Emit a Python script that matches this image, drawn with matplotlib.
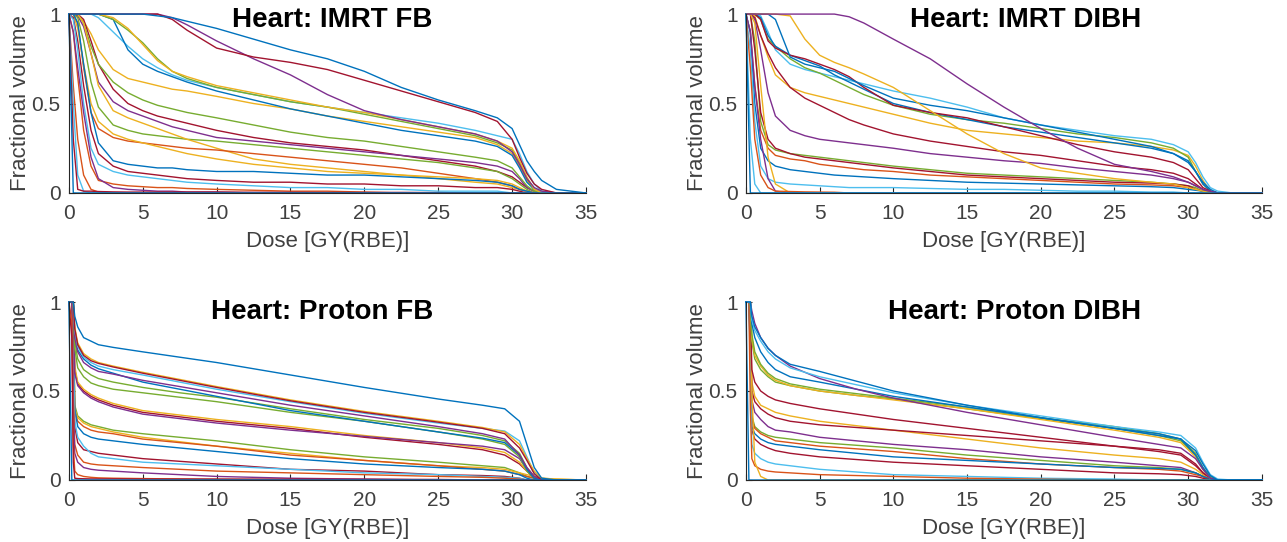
import matplotlib
matplotlib.use("Agg")
import matplotlib.pyplot as plt

plt.rcParams['font.family'] = ['Liberation Sans', 'DejaVu Sans']

# MATLAB default line colours
matlab = {
    'b': '#0072BD', 'o': '#D95319', 'y': '#EDB120', 'p': '#7E2F8E',
    'g': '#77AC30', 'c': '#4DBEEE', 'r': '#A2142F',
}

# ---- IMRT dose grid (Gy) ----
imrt_dose = [0, 0.3, 0.6, 1, 1.5, 2, 3, 4, 5, 6, 7, 8, 10, 12.5, 15, 17.5,
             20, 22.5, 25, 27.5, 29, 30, 30.5, 31, 31.5, 32, 33, 35]

# Heart: IMRT FB, fractional volume per curve on imrt_dose
imrt_fb_vol = [
    [1, 1, 0.99, 0.96, 0.89, 0.80, 0.69, 0.64, 0.62, 0.60, 0.58, 0.57, 0.54, 0.50, 0.47, 0.43, 0.40, 0.37, 0.34, 0.31, 0.27, 0.22, 0.15, 0.07, 0.02, 0, 0, 0],
    [1, 1, 1, 0.97, 0.85, 0.72, 0.58, 0.50, 0.46, 0.43, 0.41, 0.39, 0.35, 0.31, 0.28, 0.26, 0.24, 0.21, 0.18, 0.15, 0.12, 0.09, 0.06, 0.03, 0.01, 0, 0, 0],
    [1, 1, 0.99, 0.93, 0.78, 0.62, 0.51, 0.46, 0.43, 0.40, 0.37, 0.35, 0.31, 0.29, 0.27, 0.25, 0.23, 0.21, 0.19, 0.17, 0.15, 0.12, 0.08, 0.03, 0.01, 0, 0, 0],
    [1, 1, 0.98, 0.85, 0.62, 0.48, 0.38, 0.35, 0.33, 0.32, 0.31, 0.30, 0.29, 0.27, 0.25, 0.23, 0.21, 0.19, 0.17, 0.14, 0.12, 0.08, 0.05, 0.02, 0, 0, 0, 0],
    [1, 1, 1, 0.95, 0.82, 0.72, 0.62, 0.56, 0.52, 0.49, 0.47, 0.45, 0.42, 0.38, 0.34, 0.31, 0.29, 0.26, 0.23, 0.20, 0.18, 0.14, 0.09, 0.04, 0.01, 0, 0, 0],
    [1, 1, 1, 0.95, 0.78, 0.60, 0.46, 0.42, 0.39, 0.36, 0.33, 0.30, 0.25, 0.19, 0.16, 0.14, 0.12, 0.10, 0.08, 0.06, 0.05, 0.03, 0.02, 0.01, 0, 0, 0, 0],
    [1, 1, 0.95, 0.70, 0.45, 0.36, 0.31, 0.29, 0.28, 0.27, 0.26, 0.25, 0.24, 0.22, 0.20, 0.18, 0.16, 0.14, 0.11, 0.08, 0.06, 0.04, 0.02, 0.01, 0, 0, 0, 0],
    [1, 1, 0.92, 0.72, 0.50, 0.40, 0.33, 0.30, 0.28, 0.26, 0.24, 0.22, 0.19, 0.16, 0.14, 0.12, 0.11, 0.10, 0.09, 0.08, 0.07, 0.05, 0.03, 0.01, 0, 0, 0, 0],
    [1, 1, 0.95, 0.72, 0.45, 0.28, 0.18, 0.16, 0.15, 0.14, 0.14, 0.13, 0.12, 0.12, 0.11, 0.10, 0.10, 0.09, 0.08, 0.07, 0.06, 0.04, 0.02, 0.01, 0, 0, 0, 0],
    [1, 0.98, 0.85, 0.60, 0.35, 0.22, 0.15, 0.12, 0.11, 0.10, 0.09, 0.08, 0.07, 0.06, 0.06, 0.05, 0.05, 0.04, 0.04, 0.03, 0.03, 0.02, 0.01, 0, 0, 0, 0, 0],
    [1, 0.97, 0.80, 0.50, 0.25, 0.16, 0.12, 0.10, 0.09, 0.08, 0.07, 0.06, 0.05, 0.04, 0.03, 0.03, 0.02, 0.02, 0.01, 0.01, 0.01, 0, 0, 0, 0, 0, 0, 0],
    [1, 0.90, 0.65, 0.35, 0.15, 0.07, 0.05, 0.04, 0.035, 0.03, 0.03, 0.025, 0.02, 0.015, 0.01, 0.01, 0.005, 0, 0, 0, 0, 0, 0, 0, 0, 0, 0, 0],
    [1, 0.90, 0.70, 0.45, 0.20, 0.08, 0.03, 0.02, 0.015, 0.01, 0.01, 0.005, 0.005, 0, 0, 0, 0, 0, 0, 0, 0, 0, 0, 0, 0, 0, 0, 0],
    [1, 0.60, 0.30, 0.10, 0.02, 0.005, 0, 0, 0, 0, 0, 0, 0, 0, 0, 0, 0, 0, 0, 0, 0, 0, 0, 0, 0, 0, 0, 0],
    [1, 0.50, 0.10, 0.01, 0, 0, 0, 0, 0, 0, 0, 0, 0, 0, 0, 0, 0, 0, 0, 0, 0, 0, 0, 0, 0, 0, 0, 0],
    [1, 0.30, 0.02, 0.01, 0.01, 0.008, 0.006, 0.005, 0.005, 0.005, 0.005, 0.005, 0.005, 0.004, 0.004, 0.003, 0.003, 0.003, 0.002, 0, 0, 0, 0, 0, 0, 0, 0, 0],
    [1, 1, 1, 1, 1, 0.98, 0.90, 0.82, 0.75, 0.70, 0.66, 0.63, 0.59, 0.55, 0.51, 0.48, 0.45, 0.42, 0.39, 0.35, 0.32, 0.30, 0.22, 0.12, 0.05, 0.01, 0, 0],
    [1, 1, 1, 1, 1, 1, 0.97, 0.80, 0.72, 0.68, 0.65, 0.62, 0.57, 0.52, 0.47, 0.43, 0.39, 0.35, 0.32, 0.29, 0.26, 0.21, 0.14, 0.06, 0.02, 0, 0, 0],
    [1, 1, 1, 1, 1, 1, 0.97, 0.91, 0.84, 0.75, 0.68, 0.64, 0.59, 0.55, 0.51, 0.48, 0.44, 0.40, 0.36, 0.32, 0.28, 0.24, 0.17, 0.08, 0.02, 0, 0, 0],
    [1, 1, 1, 1, 1, 1, 0.98, 0.92, 0.83, 0.74, 0.68, 0.65, 0.60, 0.56, 0.52, 0.48, 0.45, 0.41, 0.37, 0.33, 0.29, 0.25, 0.18, 0.09, 0.02, 0, 0, 0],
    [1, 1, 1, 1, 1, 1, 1, 1, 1, 1, 0.98, 0.94, 0.85, 0.75, 0.66, 0.55, 0.46, 0.41, 0.37, 0.33, 0.29, 0.23, 0.16, 0.08, 0.03, 0.01, 0, 0],
    [1, 1, 1, 1, 1, 1, 1, 1, 1, 1, 0.97, 0.91, 0.81, 0.76, 0.73, 0.69, 0.63, 0.57, 0.51, 0.45, 0.40, 0.30, 0.20, 0.11, 0.05, 0.02, 0, 0],
    [1, 1, 1, 1, 1, 1, 1, 1, 1, 0.99, 0.98, 0.96, 0.92, 0.86, 0.80, 0.75, 0.68, 0.59, 0.52, 0.46, 0.42, 0.36, 0.27, 0.18, 0.12, 0.07, 0.02, 0],
    [1, 0, 0, 0, 0, 0, 0, 0, 0, 0, 0, 0, 0, 0, 0, 0, 0, 0, 0, 0, 0, 0, 0, 0, 0, 0, 0, 0],
]
imrt_fb_colors = ['y', 'r', 'p', 'g', 'g', 'y', 'o', 'y', 'b', 'r', 'c', 'o',
                  'p', 'o', 'c', 'r', 'c', 'b', 'g', 'y', 'p', 'r', 'b', 'b']

# Heart: IMRT DIBH
imrt_dibh_vol = [
    [1, 1, 0.99, 0.88, 0.76, 0.66, 0.59, 0.56, 0.54, 0.52, 0.50, 0.48, 0.44, 0.39, 0.35, 0.33, 0.31, 0.29, 0.28, 0.26, 0.24, 0.21, 0.15, 0.07, 0.01, 0, 0, 0],
    [1, 1, 0.98, 0.88, 0.78, 0.70, 0.59, 0.53, 0.49, 0.45, 0.41, 0.38, 0.33, 0.29, 0.26, 0.23, 0.21, 0.18, 0.15, 0.13, 0.11, 0.08, 0.05, 0.02, 0, 0, 0, 0],
    [1, 1, 0.97, 0.80, 0.56, 0.43, 0.35, 0.32, 0.30, 0.29, 0.28, 0.27, 0.25, 0.22, 0.20, 0.18, 0.165, 0.14, 0.12, 0.10, 0.08, 0.06, 0.04, 0.02, 0, 0, 0, 0],
    [1, 1, 0.85, 0.40, 0.27, 0.24, 0.22, 0.21, 0.20, 0.19, 0.18, 0.17, 0.15, 0.13, 0.11, 0.10, 0.09, 0.08, 0.07, 0.06, 0.05, 0.04, 0.03, 0.01, 0, 0, 0, 0],
    [1, 1, 0.80, 0.45, 0.30, 0.25, 0.22, 0.20, 0.19, 0.18, 0.17, 0.16, 0.14, 0.12, 0.10, 0.09, 0.08, 0.07, 0.06, 0.055, 0.05, 0.04, 0.02, 0.01, 0, 0, 0, 0],
    [1, 0.90, 0.60, 0.35, 0.25, 0.21, 0.19, 0.18, 0.16, 0.15, 0.14, 0.13, 0.12, 0.10, 0.09, 0.08, 0.07, 0.06, 0.05, 0.045, 0.04, 0.03, 0.02, 0.01, 0, 0, 0, 0],
    [1, 0.90, 0.50, 0.25, 0.18, 0.15, 0.13, 0.12, 0.11, 0.10, 0.095, 0.09, 0.08, 0.07, 0.06, 0.055, 0.05, 0.045, 0.04, 0.035, 0.03, 0.02, 0.015, 0.01, 0, 0, 0, 0],
    [1, 0.80, 0.40, 0.15, 0.08, 0.06, 0.05, 0.045, 0.04, 0.035, 0.03, 0.03, 0.03, 0.025, 0.02, 0.02, 0.015, 0.01, 0.01, 0.005, 0.005, 0, 0, 0, 0, 0, 0, 0],
    [1, 1, 0.95, 0.60, 0.20, 0.05, 0, 0, 0, 0, 0, 0, 0, 0, 0, 0, 0, 0, 0, 0, 0, 0, 0, 0, 0, 0, 0, 0],
    [1, 0.90, 0.60, 0.30, 0.08, 0.01, 0, 0, 0, 0, 0, 0, 0, 0, 0, 0, 0, 0, 0, 0, 0, 0, 0, 0, 0, 0, 0, 0],
    [1, 0.70, 0.30, 0.10, 0.03, 0.01, 0.008, 0.006, 0.005, 0.004, 0, 0, 0, 0, 0, 0, 0, 0, 0, 0, 0, 0, 0, 0, 0, 0, 0, 0],
    [1, 0.30, 0.05, 0, 0, 0, 0, 0, 0, 0, 0, 0, 0, 0, 0, 0, 0, 0, 0, 0, 0, 0, 0, 0, 0, 0, 0, 0],
    [1, 1, 1, 0.99, 0.90, 0.80, 0.72, 0.69, 0.67, 0.65, 0.63, 0.61, 0.57, 0.53, 0.48, 0.42, 0.38, 0.35, 0.32, 0.30, 0.27, 0.23, 0.17, 0.09, 0.03, 0.01, 0, 0],
    [1, 1, 1, 0.97, 0.86, 0.82, 0.75, 0.70, 0.67, 0.63, 0.59, 0.55, 0.49, 0.44, 0.41, 0.39, 0.36, 0.33, 0.31, 0.28, 0.25, 0.20, 0.12, 0.05, 0.01, 0, 0, 0],
    [1, 1, 1, 0.98, 0.88, 0.82, 0.77, 0.74, 0.71, 0.66, 0.62, 0.58, 0.50, 0.45, 0.41, 0.37, 0.34, 0.31, 0.28, 0.25, 0.22, 0.18, 0.12, 0.05, 0.01, 0, 0, 0],
    [1, 1, 1, 0.97, 0.85, 0.81, 0.77, 0.75, 0.72, 0.69, 0.65, 0.59, 0.49, 0.45, 0.42, 0.37, 0.32, 0.27, 0.23, 0.20, 0.17, 0.13, 0.08, 0.03, 0.01, 0, 0, 0],
    [1, 1, 1, 1, 1, 0.97, 0.76, 0.72, 0.70, 0.68, 0.64, 0.60, 0.53, 0.49, 0.46, 0.42, 0.38, 0.34, 0.30, 0.26, 0.22, 0.17, 0.12, 0.06, 0.02, 0, 0, 0],
    [1, 1, 1, 1, 1, 1, 0.99, 0.86, 0.77, 0.73, 0.70, 0.665, 0.59, 0.46, 0.33, 0.22, 0.14, 0.11, 0.08, 0.06, 0.05, 0.03, 0.02, 0.01, 0, 0, 0, 0],
    [1, 1, 1, 1, 1, 1, 1, 1, 1, 1, 0.985, 0.95, 0.86, 0.75, 0.61, 0.48, 0.36, 0.25, 0.16, 0.12, 0.09, 0.06, 0.04, 0.02, 0.01, 0, 0, 0],
    [1, 0, 0, 0, 0, 0, 0, 0, 0, 0, 0, 0, 0, 0, 0, 0, 0, 0, 0, 0, 0, 0, 0, 0, 0, 0, 0, 0],
]
imrt_dibh_colors = ['y', 'r', 'p', 'g', 'r', 'o', 'b', 'c', 'y', 'p', 'o', 'c',
                    'c', 'g', 'b', 'r', 'b', 'y', 'p', 'b']

# ---- Proton dose grid (Gy) ----
prot_dose = [0, 0.2, 0.3, 0.4, 0.6, 1, 1.5, 2, 3, 5, 7.5, 10, 15, 20, 25,
             28, 29.5, 30.5, 31, 31.5, 32, 33, 35]

# Heart: Proton FB
prot_fb_vol = [
    [1, 1, 1, 0.42, 0.36, 0.33, 0.31, 0.30, 0.28, 0.26, 0.24, 0.22, 0.17, 0.13, 0.10, 0.08, 0.07, 0.04, 0.02, 0.01, 0, 0, 0],
    [1, 1, 1, 0.40, 0.35, 0.32, 0.30, 0.29, 0.27, 0.24, 0.215, 0.19, 0.15, 0.11, 0.08, 0.07, 0.06, 0.04, 0.03, 0.02, 0.01, 0.005, 0],
    [1, 1, 1, 0.38, 0.33, 0.30, 0.28, 0.27, 0.26, 0.23, 0.21, 0.19, 0.14, 0.11, 0.08, 0.06, 0.05, 0.03, 0.02, 0.01, 0, 0, 0],
    [1, 1, 0.8, 0.40, 0.30, 0.26, 0.24, 0.23, 0.22, 0.20, 0.18, 0.16, 0.12, 0.09, 0.07, 0.06, 0.05, 0.03, 0.01, 0, 0, 0, 0],
    [1, 1, 0.7, 0.30, 0.21, 0.17, 0.16, 0.15, 0.14, 0.12, 0.105, 0.09, 0.06, 0.05, 0.03, 0.025, 0.02, 0.01, 0, 0, 0, 0, 0],
    [1, 1, 0.75, 0.33, 0.24, 0.19, 0.15, 0.13, 0.12, 0.10, 0.09, 0.08, 0.06, 0.04, 0.03, 0.02, 0.015, 0.01, 0, 0, 0, 0, 0],
    [1, 1, 0.5, 0.20, 0.14, 0.10, 0.09, 0.085, 0.08, 0.07, 0.06, 0.05, 0.04, 0.03, 0.02, 0.015, 0.01, 0.005, 0, 0, 0, 0, 0],
    [1, 1, 0.4, 0.15, 0.10, 0.07, 0.06, 0.055, 0.05, 0.04, 0.03, 0.02, 0.01, 0.005, 0, 0, 0, 0, 0, 0, 0, 0, 0],
    [1, 0.9, 0.2, 0.05, 0.03, 0.02, 0.015, 0.012, 0.01, 0.008, 0.006, 0.004, 0, 0, 0, 0, 0, 0, 0, 0, 0, 0, 0],
    [1, 0.8, 0.1, 0.01, 0.008, 0.007, 0.006, 0.006, 0.006, 0.005, 0.005, 0.005, 0.005, 0.004, 0.003, 0, 0, 0, 0, 0, 0, 0, 0],
    [1, 1, 1, 0.62, 0.54, 0.50, 0.47, 0.45, 0.42, 0.38, 0.355, 0.33, 0.29, 0.24, 0.20, 0.17, 0.14, 0.09, 0.05, 0.01, 0, 0, 0],
    [1, 1, 1, 0.64, 0.55, 0.51, 0.48, 0.46, 0.43, 0.39, 0.365, 0.34, 0.30, 0.25, 0.21, 0.18, 0.155, 0.10, 0.05, 0.015, 0, 0, 0],
    [1, 1, 1, 0.60, 0.53, 0.49, 0.46, 0.44, 0.41, 0.37, 0.345, 0.32, 0.28, 0.245, 0.21, 0.19, 0.17, 0.12, 0.06, 0.02, 0, 0, 0],
    [1, 1, 1, 0.74, 0.63, 0.58, 0.545, 0.53, 0.51, 0.49, 0.465, 0.44, 0.38, 0.33, 0.27, 0.23, 0.20, 0.13, 0.05, 0.01, 0, 0, 0],
    [1, 1, 1, 0.78, 0.68, 0.62, 0.59, 0.57, 0.55, 0.52, 0.49, 0.465, 0.40, 0.34, 0.29, 0.25, 0.22, 0.15, 0.07, 0.02, 0, 0, 0],
    [1, 1, 1, 0.82, 0.73, 0.68, 0.645, 0.625, 0.60, 0.55, 0.51, 0.47, 0.39, 0.33, 0.27, 0.235, 0.21, 0.14, 0.06, 0.01, 0, 0, 0],
    [1, 1, 1, 0.80, 0.72, 0.66, 0.63, 0.61, 0.595, 0.56, 0.525, 0.49, 0.42, 0.36, 0.30, 0.26, 0.23, 0.14, 0.07, 0.02, 0, 0, 0],
    [1, 1, 1, 0.84, 0.75, 0.69, 0.66, 0.64, 0.62, 0.59, 0.55, 0.51, 0.44, 0.375, 0.32, 0.29, 0.275, 0.22, 0.13, 0.04, 0.01, 0, 0],
    [1, 1, 1, 0.86, 0.77, 0.71, 0.68, 0.66, 0.64, 0.605, 0.565, 0.525, 0.45, 0.385, 0.33, 0.295, 0.27, 0.20, 0.12, 0.05, 0.01, 0.005, 0],
    [1, 1, 1, 0.85, 0.76, 0.70, 0.67, 0.655, 0.635, 0.60, 0.56, 0.52, 0.445, 0.38, 0.325, 0.29, 0.26, 0.18, 0.11, 0.035, 0, 0, 0],
    [1, 1, 1, 0.92, 0.86, 0.80, 0.78, 0.76, 0.745, 0.72, 0.69, 0.66, 0.59, 0.52, 0.455, 0.42, 0.40, 0.33, 0.20, 0.07, 0.01, 0, 0],
    [1, 0, 0, 0, 0, 0, 0, 0, 0, 0, 0, 0, 0, 0, 0, 0, 0, 0, 0, 0, 0, 0, 0],
]
prot_fb_colors = ['g', 'y', 'o', 'b', 'r', 'c', 'o', 'p', 'o', 'r', 'r', 'y',
                  'p', 'g', 'g', 'b', 'p', 'c', 'y', 'r', 'b', 'b']

# Heart: Proton DIBH
prot_dibh_vol = [
    [1, 1, 0.9, 0.55, 0.47, 0.42, 0.40, 0.38, 0.36, 0.33, 0.305, 0.28, 0.23, 0.18, 0.14, 0.12, 0.10, 0.06, 0.03, 0, 0, 0, 0],
    [1, 1, 0.9, 0.50, 0.44, 0.40, 0.37, 0.35, 0.33, 0.31, 0.295, 0.28, 0.25, 0.22, 0.19, 0.17, 0.15, 0.09, 0.04, 0.01, 0, 0, 0],
    [1, 1, 0.85, 0.45, 0.38, 0.34, 0.30, 0.28, 0.27, 0.24, 0.22, 0.20, 0.17, 0.13, 0.10, 0.08, 0.07, 0.04, 0.02, 0, 0, 0, 0],
    [1, 1, 0.8, 0.36, 0.30, 0.27, 0.25, 0.24, 0.23, 0.21, 0.195, 0.18, 0.14, 0.11, 0.08, 0.07, 0.06, 0.04, 0.02, 0, 0, 0, 0],
    [1, 1, 0.8, 0.34, 0.29, 0.26, 0.24, 0.22, 0.21, 0.19, 0.175, 0.16, 0.12, 0.09, 0.07, 0.06, 0.05, 0.03, 0.02, 0.005, 0, 0, 0],
    [1, 1, 0.75, 0.30, 0.26, 0.23, 0.21, 0.20, 0.19, 0.17, 0.15, 0.13, 0.11, 0.09, 0.07, 0.065, 0.06, 0.04, 0.02, 0.005, 0, 0, 0],
    [1, 1, 0.7, 0.28, 0.23, 0.20, 0.18, 0.165, 0.15, 0.13, 0.115, 0.10, 0.08, 0.06, 0.04, 0.035, 0.03, 0.02, 0.01, 0, 0, 0, 0],
    [1, 1, 0.6, 0.20, 0.15, 0.12, 0.10, 0.09, 0.08, 0.06, 0.045, 0.03, 0.02, 0.01, 0.005, 0, 0, 0, 0, 0, 0, 0, 0],
    [1, 1, 0.4, 0.12, 0.08, 0.06, 0.05, 0.045, 0.04, 0.03, 0.025, 0.02, 0.01, 0.005, 0, 0, 0, 0, 0, 0, 0, 0, 0],
    [1, 1, 1, 0.50, 0.10, 0.02, 0, 0, 0, 0, 0, 0, 0, 0, 0, 0, 0, 0, 0, 0, 0, 0, 0],
    [1, 1, 1, 0.62, 0.55, 0.50, 0.47, 0.45, 0.43, 0.40, 0.37, 0.34, 0.29, 0.24, 0.19, 0.16, 0.14, 0.08, 0.04, 0.01, 0, 0, 0],
    [1, 1, 1, 0.78, 0.68, 0.62, 0.58, 0.55, 0.53, 0.50, 0.475, 0.455, 0.40, 0.345, 0.29, 0.25, 0.22, 0.14, 0.06, 0.01, 0, 0, 0],
    [1, 1, 1, 0.80, 0.70, 0.64, 0.59, 0.56, 0.53, 0.50, 0.475, 0.45, 0.40, 0.34, 0.28, 0.24, 0.21, 0.13, 0.06, 0.01, 0, 0, 0],
    [1, 1, 1, 0.82, 0.72, 0.65, 0.60, 0.57, 0.54, 0.51, 0.485, 0.46, 0.41, 0.35, 0.30, 0.26, 0.23, 0.15, 0.07, 0.02, 0, 0, 0],
    [1, 1, 1, 0.88, 0.80, 0.72, 0.66, 0.62, 0.58, 0.55, 0.51, 0.47, 0.41, 0.35, 0.29, 0.25, 0.23, 0.14, 0.07, 0.01, 0, 0, 0],
    [1, 1, 1, 0.95, 0.88, 0.80, 0.74, 0.70, 0.64, 0.57, 0.51, 0.46, 0.38, 0.31, 0.24, 0.20, 0.18, 0.12, 0.06, 0.01, 0, 0, 0],
    [1, 1, 1, 0.90, 0.84, 0.78, 0.72, 0.68, 0.63, 0.58, 0.535, 0.49, 0.42, 0.36, 0.30, 0.27, 0.25, 0.18, 0.10, 0.03, 0.005, 0, 0],
    [1, 1, 1, 0.92, 0.86, 0.80, 0.74, 0.70, 0.65, 0.61, 0.555, 0.50, 0.42, 0.35, 0.29, 0.26, 0.23, 0.165, 0.09, 0.025, 0, 0, 0],
    [1, 0, 0, 0, 0, 0, 0, 0, 0, 0, 0, 0, 0, 0, 0, 0, 0, 0, 0, 0, 0, 0, 0],
]
prot_dibh_colors = ['y', 'r', 'p', 'g', 'o', 'b', 'r', 'c', 'o', 'y', 'r', 'g',
                    'y', 'g', 'b', 'p', 'c', 'b', 'b']

panels = [
    ('Heart: IMRT FB', imrt_dose, imrt_fb_vol, imrt_fb_colors),
    ('Heart: IMRT DIBH', imrt_dose, imrt_dibh_vol, imrt_dibh_colors),
    ('Heart: Proton FB', prot_dose, prot_fb_vol, prot_fb_colors),
    ('Heart: Proton DIBH', prot_dose, prot_dibh_vol, prot_dibh_colors),
]
x_ticks = [0, 5, 10, 15, 20, 25, 30, 35]
y_ticks = [0, 0.5, 1]
y_tick_labels = ['0', '0.5', '1']

# axes boxes in figure fractions (left, bottom, width, height)
boxes = [
    (0.0535, 0.644, 0.4018, 0.330),
    (0.5796, 0.644, 0.4009, 0.330),
    (0.0535, 0.1144, 0.4018, 0.3284),
    (0.5796, 0.1144, 0.4009, 0.3284),
]
title_pos = [(0.51, 0.966), (0.543, 0.966), (0.49, 0.944), (0.52, 0.944)]

axis_col = '#262626'
text_col = '#404040'
fig = plt.figure(figsize=(12.87, 5.42), dpi=100)

for (title, dose, rows, cols), box, tpos in zip(panels, boxes, title_pos):
    ax = fig.add_axes(box)
    for vol, c in zip(rows, cols):
        ax.plot(dose, vol, color=matlab[c], lw=1.0, clip_on=False)
    ax.set_xlim(0, 35)
    ax.set_ylim(0, 1)
    ax.set_xticks(x_ticks)
    ax.set_yticks(y_ticks)
    ax.set_yticklabels(y_tick_labels)
    for s in ['top', 'right']:
        ax.spines[s].set_visible(False)
    for s in ['left', 'bottom']:
        ax.spines[s].set_color(axis_col)
        ax.spines[s].set_linewidth(0.8)
    ax.tick_params(direction='in', length=4, width=0.8, colors=axis_col,
                   labelcolor=text_col, labelsize=15)
    ax.tick_params(axis='x', pad=8)
    ax.tick_params(axis='y', pad=6)
    ax.set_xlabel('Dose [GY(RBE)]', fontsize=16, color=text_col, labelpad=6)
    ax.set_ylabel('Fractional volume', fontsize=16, color=text_col, labelpad=0)
    ax.text(tpos[0], tpos[1], title, transform=ax.transAxes, ha='center',
            va='center', fontsize=20, fontweight='bold', color='black')

fig.savefig('out.png', dpi=100)
